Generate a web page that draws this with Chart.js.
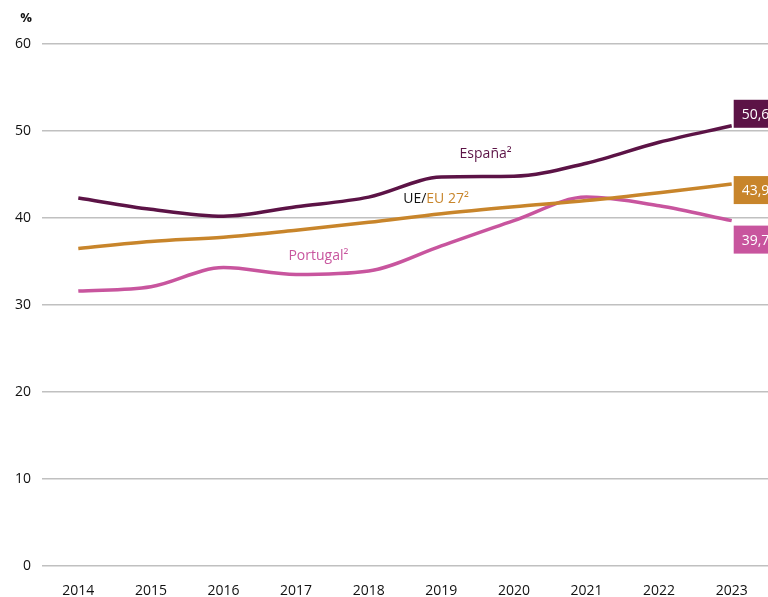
<!DOCTYPE html>
<html>
<head>
<meta charset="utf-8">
<script src="https://cdn.jsdelivr.net/npm/chart.js@4"></script>
<style>
  html, body { margin: 0; padding: 0; background: #fff; }
  #wrap { width: 768px; height: 597px; }
</style>
</head>
<body>
<div id="wrap"><canvas id="chart"></canvas></div>
<script>
const years = ["2014", "2015", "2016", "2017", "2018", "2019", "2020", "2021", "2022", "2023"];
const espana = [42.3, 41.0, 40.2, 41.3, 42.4, 44.7, 44.8, 46.3, 48.7, 50.6];
const ue27 = [36.5, 37.3, 37.8, 38.6, 39.5, 40.5, 41.3, 42.0, 42.9, 43.9];
const portugal = [31.6, 32.1, 34.3, 33.5, 33.9, 36.8, 39.7, 42.4, 41.4, 39.7];
const yTicks = [0, 10, 20, 30, 40, 50, 60];

const COL_ES = "#5c1346";
const COL_EU = "#c8852b";
const COL_PT = "#c8559e";
const FONT = "'Open Sans', 'Noto Sans', sans-serif";

// last-value boxes and series names
const labelsPlugin = {
  id: "labels",
  afterDatasetsDraw(chart) {
    const ctx = chart.ctx;
    const x = chart.scales.x;
    const y = chart.scales.y;
    const last = years.length - 1;
    const bx = x.getPixelForValue(last) + 2;

    const boxes = [
      { v: espana[last], c: COL_ES, dy: -12 },
      { v: ue27[last], c: COL_EU, dy: 6 },
      { v: portugal[last], c: COL_PT, dy: 19 }
    ];
    ctx.save();
    ctx.font = "14px " + FONT;
    ctx.textBaseline = "middle";
    boxes.forEach(b => {
      const cy = y.getPixelForValue(b.v) + b.dy;
      ctx.fillStyle = b.c;
      ctx.fillRect(bx, cy - 14, 60, 28);
      ctx.fillStyle = "#fff";
      ctx.textAlign = "left";
      ctx.fillText(b.v.toFixed(1).replace(".", ","), bx + 8, cy + 1);
    });

    ctx.font = "14px " + FONT;
    ctx.textAlign = "center";
    ctx.fillStyle = COL_ES;
    ctx.fillText("España²", (x.getPixelForValue(5) + x.getPixelForValue(6)) / 2 + 8, y.getPixelForValue(47.4));
    ctx.fillStyle = COL_PT;
    ctx.fillText("Portugal²", (x.getPixelForValue(3) + x.getPixelForValue(4)) / 2 - 14, y.getPixelForValue(35.6));

    const ux = (x.getPixelForValue(4) + x.getPixelForValue(5)) / 2 + 31;
    const uy = y.getPixelForValue(42.2);
    const p1 = "UE/";
    const p2 = "EU 27²";
    const w1 = ctx.measureText(p1).width;
    const w2 = ctx.measureText(p2).width;
    ctx.textAlign = "left";
    ctx.fillStyle = "#111";
    ctx.fillText(p1, ux - (w1 + w2) / 2, uy);
    ctx.fillStyle = COL_EU;
    ctx.fillText(p2, ux - (w1 + w2) / 2 + w1, uy);

    ctx.font = "bold 13px " + FONT;
    ctx.fillStyle = "#111";
    ctx.textAlign = "center";
    ctx.fillText("%", 26, 18);
    ctx.restore();
  }
};

function series(label, data, color) {
  return {
    label,
    data,
    borderColor: color,
    backgroundColor: color,
    borderWidth: 3.5,
    pointRadius: 0,
    tension: 0.4,
    cubicInterpolationMode: "monotone",
    fill: false
  };
}

new Chart(document.getElementById("chart"), {
  type: "line",
  data: {
    labels: years,
    datasets: [
      series("UE/EU 27²", ue27, COL_EU),
      series("Portugal²", portugal, COL_PT),
      series("España²", espana, COL_ES)
    ]
  },
  options: {
    responsive: true,
    maintainAspectRatio: false,
    animation: false,
    layout: { padding: { top: 44, right: 0, left: 0, bottom: 0 } },
    plugins: {
      legend: { display: false },
      tooltip: { enabled: false }
    },
    scales: {
      x: {
        offset: true,
        grid: { display: false },
        border: { display: false },
        afterFit: axis => { axis.height = 31; },
        ticks: { color: "#111", font: { family: FONT, size: 14 }, padding: 9, maxRotation: 0 }
      },
      y: {
        min: 0,
        max: 60,
        afterBuildTicks: axis => { axis.ticks = yTicks.map(v => ({ value: v })); },
        afterFit: axis => { axis.width = 42; },
        grid: { color: "#c0c0c0", lineWidth: 1.5, drawTicks: false },
        border: { display: false },
        ticks: { color: "#111", font: { family: FONT, size: 14 }, padding: 11 }
      }
    }
  },
  plugins: [labelsPlugin]
});
</script>
</body>
</html>
